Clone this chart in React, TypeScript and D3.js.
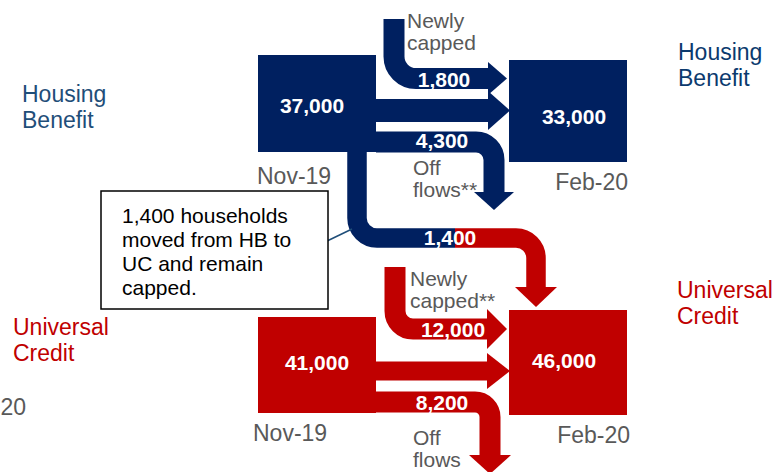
import React from "react";
import * as d3 from "d3";

// ---------- data ----------
const periods = ["Nov-19", "Feb-20"];
const schemes = ["Housing Benefit", "Universal Credit"];
const hbCapped = [37000, 33000];
const ucCapped = [41000, 46000];
const flowNames = ["hbNew", "hbMain", "hbOff", "hbToUc", "ucNew", "ucMain", "ucOff"];
const flowValues: (number | null)[] = [1800, null, 4300, 1400, 12000, null, 8200];
const flowCaptions: string[][] = [["Newly", "capped"], [], ["Off", "flows**"], [], ["Newly", "capped**"], [], ["Off", "flows"]];
const noteLines = ["1,400 households", "moved from HB to", "UC and remain", "capped."];

// ---------- layout ----------
const W = 776, H = 472;
const NAVY = "#002060", RED = "#C00000", GREY = "#595959", LBLUE = "#1F4E79";
const FONT = "'Liberation Sans', Arial, sans-serif";
const fmt = d3.format(",");

const colX = d3.scaleOrdinal<string, number>().domain(periods).range([258, 509]);
const boxW = 118;
const boxY: Record<string, [number, number][]> = {
  "Housing Benefit": [[55, 152], [60, 162]],
  "Universal Credit": [[317, 413], [310, 415]],
};
const schemeColor = d3.scaleOrdinal<string, string>().domain(schemes).range([NAVY, RED]);

type Flow = {
  pts: [number, number][]; w: number; r: number; half: number; len: number;
  color: string; label?: [number, number]; cap?: [number, number];
};
const flowLayout: Record<string, Flow> = {
  hbNew: { pts: [[394, 19], [394, 78.5], [488, 78.5]], w: 21, r: 22, half: 16.5, len: 19, color: NAVY, label: [444, 87], cap: [407, 28] },
  hbMain: { pts: [[376, 110.5], [488, 110.5]], w: 23, r: 0, half: 19.5, len: 22, color: NAVY },
  hbOff: { pts: [[376, 142], [494, 142], [494, 192]], w: 21, r: 18, half: 20, len: 18, color: NAVY, label: [442, 148], cap: [413, 175] },
  hbToUc: { pts: [[357, 150], [357, 238], [536, 238], [536, 287]], w: 19.5, r: 20, half: 21, len: 20, color: "url(#hbuc)", label: [450, 245] },
  ucNew: { pts: [[395, 267], [395, 329], [487, 329]], w: 21, r: 18, half: 20, len: 20, color: RED, label: [453, 337], cap: [410, 286] },
  ucMain: { pts: [[376, 371], [487, 371]], w: 19, r: 0, half: 18, len: 23, color: RED },
  ucOff: { pts: [[376, 402], [490, 402], [490, 455]], w: 21, r: 15, half: 21, len: 19, color: RED, label: [442, 410], cap: [413, 445] },
};

function bandPath(pts: [number, number][], r: number) {
  const p = d3.path();
  p.moveTo(pts[0][0], pts[0][1]);
  for (let i = 1; i < pts.length - 1; i++) p.arcTo(pts[i][0], pts[i][1], pts[i + 1][0], pts[i + 1][1], r);
  const a = pts[pts.length - 2], b = pts[pts.length - 1];
  const dx = b[0] - a[0], dy = b[1] - a[1], L = Math.hypot(dx, dy);
  p.lineTo(b[0] + (dx / L) * 0.8, b[1] + (dy / L) * 0.8);
  return p.toString();
}
function headPath(pts: [number, number][], half: number, len: number) {
  const a = pts[pts.length - 2], b = pts[pts.length - 1];
  const dx = b[0] - a[0], dy = b[1] - a[1], L = Math.hypot(dx, dy);
  const ux = dx / L, uy = dy / L, nx = -uy, ny = ux;
  const p = d3.path();
  p.moveTo(b[0] + nx * half, b[1] + ny * half);
  p.lineTo(b[0] + ux * len, b[1] + uy * len);
  p.lineTo(b[0] - nx * half, b[1] - ny * half);
  p.closePath();
  return p.toString();
}
function headColor(f: Flow) { return f.color.startsWith("url") ? RED : f.color; }

const sideLabels = [
  { lines: ["Housing", "Benefit"], x: 22, y: 102, color: LBLUE },
  { lines: ["Universal", "Credit"], x: 13, y: 335, color: RED },
  { lines: ["Housing", "Benefit"], x: 678, y: 60, color: "#0B3A6E" },
  { lines: ["Universal", "Credit"], x: 677, y: 298, color: RED },
];
const periodLabelPos: Record<string, [number, number, string][]> = {
  "Housing Benefit": [[257, 184, "start"], [628, 190, "end"]],
  "Universal Credit": [[253, 441, "start"], [630, 443, "end"]],
};
const valueLabelPos: Record<string, [number, number][]> = {
  "Housing Benefit": [[312, 113], [574, 124]],
  "Universal Credit": [[317, 370], [564, 368]],
};

export default function App() {
  const stocks: Record<string, number[]> = { "Housing Benefit": hbCapped, "Universal Credit": ucCapped };
  return (
    <svg width={W} height={H} style={{ position: "absolute", left: 0, top: 0, background: "#fff" }} fontFamily={FONT}>
      <defs>
        <linearGradient id="hbuc" gradientUnits="userSpaceOnUse" x1={0} x2={W} y1={0} y2={0}>
          <stop offset={455 / W} stopColor={NAVY} />
          <stop offset={455 / W} stopColor={RED} />
        </linearGradient>
      </defs>
      <rect width={W} height={H} fill="#fff" />

      {/* flows */}
      {flowNames.map((n) => {
        const f = flowLayout[n];
        return (
          <g key={n}>
            <path d={bandPath(f.pts, f.r)} fill="none" stroke={f.color} strokeWidth={f.w} />
            <path d={headPath(f.pts, f.half, f.len)} fill={headColor(f)} />
          </g>
        );
      })}

      {/* stock boxes */}
      {schemes.map((s) =>
        periods.map((p, i) => {
          const [y0, y1] = boxY[s][i];
          return <rect key={s + p} x={colX(p)} y={y0} width={boxW} height={y1 - y0} fill={schemeColor(s)} />;
        })
      )}

      {/* stock values */}
      {schemes.map((s) =>
        stocks[s].map((v, i) => {
          const [x, y] = valueLabelPos[s][i];
          return (
            <text key={s + i} x={x} y={y} textAnchor="middle" fill="#fff" fontWeight="bold" fontSize={21}>
              {fmt(v)}
            </text>
          );
        })
      )}

      {/* flow labels */}
      {flowNames.map((n, i) => {
        const f = flowLayout[n];
        const v = flowValues[i];
        return (
          <g key={"l" + n}>
            {v !== null && f.label && (
              <text x={f.label[0]} y={f.label[1]} textAnchor="middle" fill="#fff" fontWeight="bold" fontSize={21}>
                {fmt(v)}
              </text>
            )}
            {f.cap &&
              flowCaptions[i].map((t, j) => (
                <text key={j} x={f.cap![0]} y={f.cap![1] + j * 22} fill={GREY} fontSize={21}>
                  {t}
                </text>
              ))}
          </g>
        );
      })}

      {/* period labels */}
      {schemes.map((s) =>
        periods.map((p, i) => {
          const [x, y, a] = periodLabelPos[s][i];
          return (
            <text key={"p" + s + p} x={x} y={y} textAnchor={a as any} fill={GREY} fontSize={23}>
              {p}
            </text>
          );
        })
      )}
      <text x={0.5} y={415} fill={GREY} fontSize={23}>20</text>

      {/* scheme labels */}
      {sideLabels.map((l, k) => (
        <g key={"s" + k}>
          {l.lines.map((t, j) => (
            <text key={j} x={l.x} y={l.y + j * 26} fill={l.color} fontSize={23}>
              {t}
            </text>
          ))}
        </g>
      ))}

      {/* annotation */}
      <line x1={325} y1={242} x2={352} y2={229} stroke={LBLUE} strokeWidth={1.5} />
      <rect x={101} y={191} width={227} height={118} fill="#fff" stroke="#000" strokeWidth={1.5} />
      {noteLines.map((t, j) => (
        <text key={"n" + j} x={122} y={223 + j * 24} fill="#000" fontSize={21}>
          {t}
        </text>
      ))}
    </svg>
  );
}
